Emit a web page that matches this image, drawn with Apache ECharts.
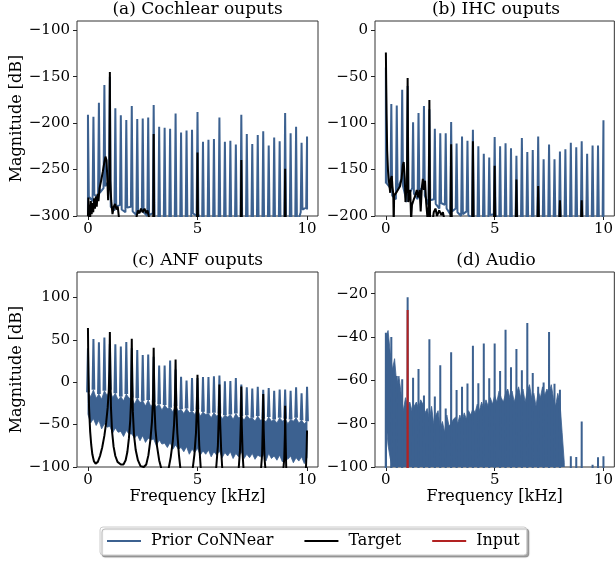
<!DOCTYPE html>
<html>
<head>
<meta charset="utf-8">
<script src="https://cdn.jsdelivr.net/npm/echarts@6/dist/echarts.min.js"></script>
<style>
  html, body { margin: 0; padding: 0; background: #ffffff; }
  #chart { width: 616px; height: 561px; }
</style>
</head>
<body>
<div id="chart"></div>
<script>
// ---------- data ----------
// Harmonic grid shared by all four spectra (kHz)
const harmonicKHz = [0, 0.25, 0.5, 0.75, 1, 1.25, 1.5, 1.75, 2, 2.25, 2.5, 2.75, 3, 3.25, 3.5, 3.75,
  4, 4.25, 4.5, 4.75, 5, 5.25, 5.5, 5.75, 6, 6.25, 6.5, 6.75, 7, 7.25, 7.5, 7.75,
  8, 8.25, 8.5, 8.75, 9, 9.25, 9.5, 9.75, 10];

// (a) Cochlear outputs, prior model: harmonic peaks, level just after and just before each peak (dB)
const cochPriorPeakDb = [-191, -193, -178, -159, -150, -184, -191.5, -196.5, -181.5, -195.5, -195, -194,
  -180.5, -204, -205, -206, -189.7, -210, -208, -207, -188, -220, -218, -217, -194, -220, -219, -223,
  -191, -211.6, -222.4, -212.7, -208.8, -224, -215.6, -219.5, -189, -211, -204, -221, -214.5];
const cochPriorAfterDb = [-279, -277, -275, -268, -290, -290, -293, -291, -295, -297, -296, -299, -303,
  -310, -310, -310, -310, -310, -310, -297, -298, -310, -310, -310, -310, -310, -310, -310, -310,
  -310, -310, -310, -310, -310, -310, -310, -310, -310, -310, -293, -293];
const cochPriorBeforeDb = [-300, -284, -280, -270, -262, -294, -288, -296, -290, -299, -293, -300, -297,
  -310, -310, -310, -310, -310, -310, -310, -300, -310, -310, -310, -310, -310, -310, -310, -310,
  -310, -310, -310, -310, -310, -310, -310, -310, -310, -310, -296, -291];
// (a) target trace
const cochTargetKHz = [0, 0.02, 0.04, 0.07, 0.1, 0.13, 0.17, 0.2, 0.24, 0.28, 0.32, 0.36, 0.4, 0.44, 0.48,
  0.53, 0.6, 0.68, 0.75, 0.8, 0.85, 0.88, 0.92, 0.95, 0.98, 1, 1.02, 1.06, 1.12, 1.18, 1.24, 1.3, 1.36,
  1.42, 2.2, 2.28, 2.35, 2.42, 2.5, 2.58, 2.66, 2.72, 2.8, 2.98, 3, 3.02, 4.98, 5, 5.02, 6.98, 7, 7.02,
  8.98, 9, 9.02, 10];
const cochTargetDb = [-300, -280, -303, -288, -303, -284, -298, -286, -296, -281, -292, -279, -290, -276, -284,
  -270, -262, -252, -242, -236, -240, -258, -283, -270, -262, -145, -262, -283, -298, -290, -287, -293, -290,
  -303, -303, -294, -297, -292, -296, -292, -297, -294, -303, -303, -211.6, -303, -303, -231.7, -303, -303, -239.6, -303,
  -303, -249, -303, -303];

// (b) IHC outputs, prior model
const ihcPriorPeakDb = [-40, -79.4, -81, -64, -60, -99, -89, -81.6, -85, -106, -111, -111, -98.7, -122,
  -114.5, -119, -107, -125, -133, -137, -115, -125, -121.6, -127, -135, -116, -131, -129, -114.5, -138.8,
  -123, -139, -130.6, -128, -121, -126, -119.5, -133, -124, -124, -97];
const ihcPriorAfterDb = [-165, -178, -172, -168, -178, -176, -172, -178, -183, -187, -186, -192, -195,
  -196, -198, -199, -205, -205, -205, -199, -199, -205, -205, -205, -205, -205, -205, -205, -205,
  -205, -205, -205, -205, -205, -205, -205, -205, -205, -205, -205, -205];
const ihcPriorBeforeDb = [-165, -170, -182, -160, -185, -170, -182, -170, -188, -182, -192, -188, -198,
  -192, -200, -195, -203, -205, -205, -205, -198, -205, -205, -205, -205, -205, -205, -205, -205,
  -205, -205, -205, -205, -205, -205, -205, -205, -205, -205, -205, -205];
// (b) target trace
const ihcTargetKHz = [0, 0.03, 0.06, 0.1, 0.15, 0.2, 0.23, 0.27, 0.3, 0.34, 0.36, 0.38, 0.45, 0.5, 0.58,
  0.65, 0.72, 0.78, 0.82, 0.87, 0.9, 0.94, 0.97, 1, 1.03, 1.08, 1.12, 1.16, 1.2, 1.27, 1.35, 1.42, 1.48,
  1.55, 1.6, 1.65, 1.7, 1.75, 1.8, 1.85, 1.92, 1.97, 2, 2.03, 2.15, 2.2, 2.28, 2.35, 2.45, 2.55, 2.62, 2.7,
  2.97, 3, 3.03, 3.97, 4, 4.03, 4.97, 5, 5.03, 5.97, 6, 6.03, 6.97, 7, 7.03, 7.97, 8, 8.03, 8.97, 9, 9.03, 10];
const ihcTargetDb = [-24, -90, -130, -152, -165, -175, -160, -157, -168, -176, -210, -178, -176, -174, -172,
  -168, -160, -145, -142, -160, -185, -170, -175, -51.5, -185, -175, -172, -205, -188, -183, -178, -172, -180,
  -172, -195, -170, -160, -172, -162, -185, -205, -190, -75, -205, -205, -196, -192, -200, -194, -199, -196, -205,
  -205, -122.7, -205, -205, -119.5, -205, -205, -146, -205, -205, -160.6, -205, -205, -167.8, -205, -205, -183, -205,
  -205, -183, -205, -205];

// (c) ANF outputs, prior model: harmonic peaks plus a dense broadband floor (upper/lower edge per bin)
const anfPriorPeakDb = [40, 51, 47, 52.6, 45, 44.7, 42, 47.4, 40, 38, 32, 32.8, 30, 19.8, 19.8, 25.7, 15,
  6.3, 2, 5, 5, 6, 6, 7, 8, 1, 1.5, 5, -2.8, -6, -7.5, -5.5, -9, -7, -10, -8.7, -8.7, -10, -6, -13, -5.5];
const anfBandStepKHz = 0.125;
const anfBandTopDb = [-12, -17, -9, -19, -14, -20, -10, -16, -9, -18, -13, -21, -17, -22, -14, -19,
  -18, -26, -19, -24, -22, -28, -21, -29, -24, -29, -26, -33, -27, -31, -30, -35, -28, -34, -32, -37,
  -31, -36, -34, -38, -32, -40, -35, -38, -37, -42, -36, -40, -37, -43, -39, -41, -38, -44, -37, -42,
  -40, -45, -39, -43, -42, -46, -40, -45, -43, -47, -41, -46, -44, -48, -42, -46, -43, -49, -44, -46,
  -42, -48, -45, -49, -46];
const anfBandBottomDb = [-38, -48, -43, -51, -45, -55, -49, -53, -52, -60, -54, -59, -58, -64, -57, -61,
  -61, -66, -62, -69, -63, -71, -66, -68, -67, -75, -68, -73, -72, -77, -71, -79, -74, -79, -77, -82,
  -76, -85, -79, -83, -78, -86, -81, -85, -80, -88, -82, -86, -81, -89, -83, -87, -82, -90, -84, -88,
  -82, -90, -85, -89, -84, -91, -86, -88, -85, -93, -84, -90, -87, -92, -86, -94, -88, -91, -87, -95,
  -89, -93, -88, -96, -89];
// (c) target trace
const anfTargetKHz = [0, 0.02, 0.05, 0.1, 0.15, 0.2, 0.27, 0.35, 0.45, 0.55, 0.65, 0.75, 0.83, 0.9, 0.95, 0.98, 1,
  1.02, 1.05, 1.1, 1.17, 1.25, 1.35, 1.5, 1.62, 1.72, 1.8, 1.87, 1.93, 1.97, 2,
  2.02, 2.05, 2.1, 2.18, 2.28, 2.4, 2.55, 2.66, 2.76, 2.85, 2.92, 2.97, 3,
  3.03, 3.08, 3.15, 3.25, 3.35, 3.68, 3.78, 3.87, 3.93, 3.97, 4,
  4.03, 4.08, 4.15, 4.22, 4.78, 4.86, 4.93, 4.97, 5, 5.03, 5.08, 5.15, 5.85, 5.93, 5.97, 6,
  6.03, 6.08, 6.13, 6.88, 6.94, 6.98, 7, 7.02, 7.06, 7.1, 7.9, 7.95, 7.98, 8,
  8.02, 8.06, 8.1, 8.92, 8.96, 8.99, 9, 9.02, 9.05, 9.95, 9.98, 10];
const anfTargetDb = [64, 10, -30, -58, -74, -85, -93, -96, -94, -87, -77, -63, -48, -30, -10, 15, 59.3,
  10, -30, -58, -76, -87, -94, -97, -97, -92, -82, -66, -45, -20, 51.4,
  0, -35, -62, -80, -92, -99, -100, -97, -86, -68, -47, -20, 40.7,
  -25, -55, -75, -92, -102, -102, -88, -70, -50, -25, 26.9,
  -30, -60, -85, -102, -102, -85, -60, -30, 8.7, -40, -75, -102, -102, -75, -40, -2.8,
  -45, -80, -102, -102, -80, -45, -5, -50, -85, -102, -102, -85, -50, -14,
  -55, -90, -102, -102, -90, -60, -27.7, -65, -102, -102, -80, -57];

// (d) Audio, prior model: harmonic peaks plus a broadband floor up to ~8.2 kHz
const audioPeakDb = [-38, -40, -58, -59.5, -21.7, -58.8, -54.8, -67, -41, -67.5, -53, -73, -47, -64.5,
  -63, -61.5, -44, -61.4, -43, -59, -43, -55.7, -36.6, -54, -45.5, -55.3, -33.5, -56.6, -63, -61, -37.7,
  -61.6, -64.4, -110, -95, -95.4, -79, -110, -99, -95.5, -95];
const audioNoiseStepKHz = 0.1;
const audioNoiseTopDb = [-40, -37, -47, -55, -50, -62, -58, -66, -74, -68,
  -72, -70, -74, -72, -70, -73, -69, -71, -75, -73,
  -78, -72, -80, -76, -74, -82, -79, -84, -76, -81,
  -80, -78, -77, -80, -76, -79, -75, -78, -74, -76,
  -73, -75, -71, -74, -70, -73, -69, -72, -68, -71,
  -67, -70, -65, -68, -70, -66, -64, -68, -65, -70,
  -66, -63, -68, -64, -70, -65, -62, -68, -66, -72,
  -65, -68, -63, -67, -64, -66, -62, -68, -72, -66,
  -70, -84, -98];
const audioNoiseLowDb = [-78, -90, -96];   // lowest bins lift off the floor
// Input tone
const inputKHz = [1];
const inputDb = [-27.5];

// Axis ticks
const freqTicks = [0, 5, 10];
const cochTicks = [-300, -250, -200, -150, -100];
const ihcTicks = [-200, -150, -100, -50, 0];
const anfTicks = [-100, -50, 0, 50, 100];
const audioTicks = [-100, -80, -60, -40, -20];

// ---------- styling ----------
const BLUE = '#3c6190';
const BLACK = '#000000';
const RED = '#b22222';
const FONT = "'DejaVu Serif', serif";
const SPIKE_HALF = 0.04;          // half width of a harmonic spike (kHz)
const BELOW = -400;               // level under every axis floor

// ---------- builders ----------
// one continuous trace: level before -> peak -> level after, for every harmonic
function spikeTrace(freqs, peaks, afterDb, beforeDb) {
  const pts = [];
  const f0 = freqs[0], fN = freqs[freqs.length - 1];
  freqs.forEach((f, i) => {
    pts.push([Math.max(f - SPIKE_HALF, f0), beforeDb[i]], [f, peaks[i]],
             [Math.min(f + SPIKE_HALF, fN), afterDb[i]]);
  });
  return pts;
}
// separate spikes, each rising from its own base level
function spikeSet(freqs, peaks, baseOf) {
  const pts = [];
  freqs.forEach((f, i) => {
    const b = baseOf(f, i);
    pts.push([f - SPIKE_HALF, b], [f, peaks[i]], [f + SPIKE_HALF, b], [f, '-']);
  });
  return pts;
}
function pairs(xs, ys) { return xs.map((x, i) => [x, ys[i]]); }

function lineSeries(name, idx, data, color, width) {
  return {
    type: 'line', name, xAxisIndex: idx, yAxisIndex: idx, data,
    showSymbol: false, symbol: 'none', clip: true, connectNulls: false,
    lineStyle: { color, width }, itemStyle: { color }, emphasis: { disabled: true }
  };
}
// filled band between an upper and a lower edge
function bandSeries(name, idx, rows, color) {
  return {
    type: 'custom', name, xAxisIndex: idx, yAxisIndex: idx, clip: true,
    data: rows, encode: { x: 0, y: [1, 2] },
    itemStyle: { color },
    renderItem(params, api) {
      if (params.dataIndexInside !== 0) return null;
      const n = rows.length, pts = [];
      for (let j = 0; j < n; j++) pts.push(api.coord([api.value(0, j), api.value(1, j)]));
      for (let j = n - 1; j >= 0; j--) pts.push(api.coord([api.value(0, j), api.value(2, j)]));
      return { type: 'polygon', shape: { points: pts }, style: { fill: color, stroke: color, lineWidth: 0.8 } };
    }
  };
}

const anfBand = anfBandTopDb.map((t, i) => [i * anfBandStepKHz, t, anfBandBottomDb[i]]);
const audioBand = audioNoiseTopDb.map((t, i) => [i * audioNoiseStepKHz, t,
  i < audioNoiseLowDb.length ? audioNoiseLowDb[i] : audioTicks[0]]);

// ---------- layout ----------
const grids = [
  { left: 77, top: 21, width: 241, height: 195 },
  { left: 375, top: 21, width: 242, height: 195 },
  { left: 77, top: 272, width: 241, height: 195 },
  { left: 375, top: 272, width: 242, height: 195 }
];
const yRanges = [[-300, -90, cochTicks], [-200, 10, ihcTicks], [-100, 130, anfTicks], [-100, -10, audioTicks]];
const titles = ['(a) Cochlear ouputs', '(b) IHC ouputs', '(c) ANF ouputs', '(d) Audio'];

const tickFmt = v => String(v).replace('-', '\u2212');
const textBase = { fontFamily: FONT, color: '#000000' };

const option = {
  animation: false,
  backgroundColor: '#ffffff',
  title: titles.map((t, i) => ({
    text: t,
    left: grids[i].left + grids[i].width / 2,
    top: grids[i].top - 20,
    textAlign: 'center',
    padding: 0,
    textStyle: Object.assign({ fontSize: 17, fontWeight: 'normal' }, textBase)
  })),
  legend: {
    left: 100, top: 527,
    data: [
      { name: 'Prior CoNNear', icon: 'rect', itemStyle: { color: BLUE } },
      { name: 'Target', icon: 'rect', itemStyle: { color: BLACK } },
      { name: 'Input', icon: 'rect', itemStyle: { color: RED } }
    ],
    itemWidth: 34, itemHeight: 2, itemGap: 31,
    padding: [6, 7, 6, 7],
    backgroundColor: '#ffffff', borderColor: '#cccccc', borderWidth: 1, borderRadius: 3,
    shadowColor: 'rgba(0,0,0,0.35)', shadowBlur: 1, shadowOffsetX: 2, shadowOffsetY: 2,
    selectedMode: false,
    textStyle: Object.assign({ fontSize: 16, padding: [0, 0, 0, 5] }, textBase)
  },
  grid: grids.map(g => Object.assign({ show: true, borderColor: '#333333', borderWidth: 1, backgroundColor: 'transparent' }, g)),
  xAxis: grids.map((g, i) => ({
    type: 'value', gridIndex: i, min: -0.5, max: 10.5,
    axisLine: { show: false, onZero: false },
    axisTick: { show: true, length: 4, customValues: freqTicks, lineStyle: { color: '#222222', width: 1 } },
    axisLabel: Object.assign({ customValues: freqTicks, fontSize: 15, margin: 6, formatter: tickFmt }, textBase),
    splitLine: { show: false },
    name: i >= 2 ? 'Frequency [kHz]' : '',
    nameLocation: 'middle', nameGap: 22,
    nameTextStyle: Object.assign({ fontSize: 16 }, textBase)
  })),
  yAxis: grids.map((g, i) => ({
    type: 'value', gridIndex: i, min: yRanges[i][0], max: yRanges[i][1],
    axisLine: { show: false, onZero: false },
    axisTick: { show: true, length: 4, customValues: yRanges[i][2], lineStyle: { color: '#222222', width: 1 } },
    axisLabel: Object.assign({ customValues: yRanges[i][2], fontSize: 15, margin: 7, formatter: tickFmt }, textBase),
    splitLine: { show: false },
    name: i % 2 === 0 ? 'Magnitude [dB]' : '',
    nameLocation: 'middle', nameGap: 51, nameRotate: 90,
    nameTextStyle: Object.assign({ fontSize: 16 }, textBase)
  })),
  series: [
    // (a)
    lineSeries('Prior CoNNear', 0, spikeTrace(harmonicKHz, cochPriorPeakDb, cochPriorAfterDb, cochPriorBeforeDb), BLUE, 2),
    lineSeries('Target', 0, pairs(cochTargetKHz, cochTargetDb), BLACK, 2),
    // (b)
    lineSeries('Prior CoNNear', 1, spikeTrace(harmonicKHz, ihcPriorPeakDb, ihcPriorAfterDb, ihcPriorBeforeDb), BLUE, 2),
    lineSeries('Target', 1, pairs(ihcTargetKHz, ihcTargetDb), BLACK, 2),
    // (c)
    bandSeries('Prior CoNNear', 2, anfBand, BLUE),
    lineSeries('Prior CoNNear', 2, spikeSet(harmonicKHz, anfPriorPeakDb,
      f => anfBandTopDb[Math.round(f / anfBandStepKHz)]), BLUE, 2),
    lineSeries('Target', 2, pairs(anfTargetKHz, anfTargetDb), BLACK, 2),
    // (d)
    bandSeries('Prior CoNNear', 3, audioBand, BLUE),
    lineSeries('Prior CoNNear', 3, spikeSet(harmonicKHz, audioPeakDb, () => BELOW), BLUE, 2),
    lineSeries('Input', 3, spikeSet(inputKHz, inputDb, () => BELOW), RED, 2)
  ]
};

const chart = echarts.init(document.getElementById('chart'), null, { renderer: 'canvas' });
chart.setOption(option);
</script>
</body>
</html>
